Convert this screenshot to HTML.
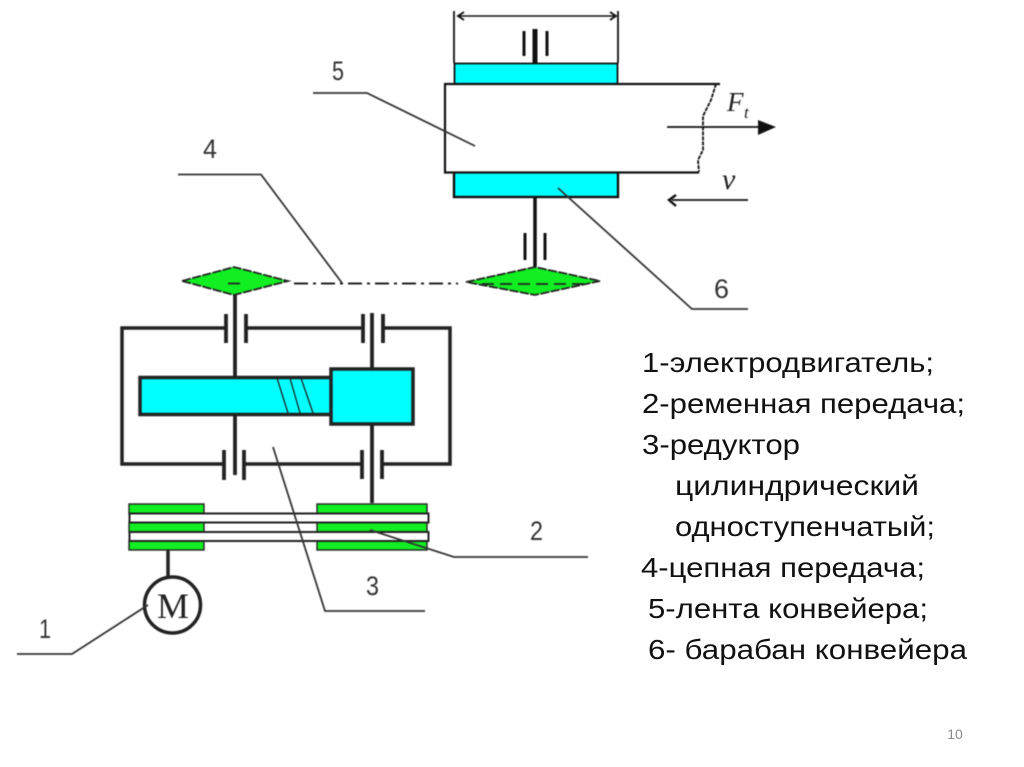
<!DOCTYPE html>
<html><head><meta charset="utf-8"><style>
html,body{margin:0;padding:0;background:#fff;width:1024px;height:767px;overflow:hidden}
svg{display:block}
.t{font-family:"Liberation Sans","DejaVu Sans",sans-serif;font-size:28px;fill:#111}
.n{font-family:"Liberation Sans",sans-serif;font-size:27px;fill:#333}
.b{filter:blur(.4px)}
</style></head><body>
<svg width="1024" height="767" viewBox="0 0 1024 767" xmlns="http://www.w3.org/2000/svg">
<rect width="1024" height="767" fill="#fff"/>
<g class="b">
<!-- drum & belt -->
<g stroke="#111" fill="none">
<path d="M454 11V63M618 11V63" stroke-width="1.8"/>
<path d="M457 16H615" stroke-width="1.6"/>
<path d="M464 12L458 16L464 20M610 12L616 16L610 20" stroke-width="1.8"/>
<path d="M524 31V56M547 31V56" stroke-width="3"/>
<path d="M535 29V63" stroke-width="5"/>
<rect x="454.500" y="63.500" width="163" height="21" fill="#00ffff" stroke-width="1.8"/>
<rect x="454" y="172" width="164" height="25" fill="#00ffff" stroke-width="2.4"/>
<path d="M720 84H445V172.500H699" stroke-width="2.2" fill="#fff"/>
<path d="M716 84L711 100L703 116V150L698 160L699 172" stroke-width="1.8" stroke-dasharray="4 1"/>
<path d="M667 127H760" stroke-width="1.8"/>
<path d="M535 197V267" stroke-width="3.500"/>
<path d="M525 233V260M545 233V260" stroke-width="3"/>
<path d="M672 200H748" stroke-width="1.8"/>
<path d="M676 195L669 200L676 206" stroke-width="2.4"/>
</g>
<path d="M758 120L776 127L758 135Z" fill="#111"/>
<!-- sprockets -->
<g fill="#11ee22" stroke="#222" stroke-width="1.800" stroke-dasharray="9 1.500">
<path d="M182 281L234 267L288 281L234 295Z"/>
<path d="M466 282L535 267L600 281L535 295Z"/>
</g>
<path d="M228 283.500H244M482 284H590" stroke="#222" stroke-width="1.800" stroke-dasharray="12 6"/>
<path d="M294 283.500H458" stroke="#222" stroke-width="2" stroke-dasharray="14 5 3 5"/>
<!-- reducer -->
<g stroke="#222" fill="none" stroke-width="3.500">
<path d="M226 328H122V464H224M246 328H363M383 328H450V464H382M244 464H362"/>
<path d="M226 314V343M246 314V343M363 314V343M383 314V343M224 450V480M244 450V480M362 450V479M382 450V479" stroke-width="3.800"/>
<path d="M235 294V377M372 313V369M235 414V475M372 424V503" stroke-width="3.800"/>
<rect x="140" y="377.500" width="192" height="37" fill="#00ffff"/>
<rect x="331" y="369" width="82" height="55" fill="#00ffff"/>
<path d="M277 378L288 413M290 378L300 413M301 378L313 413" stroke-width="1.300"/>
</g>
<!-- pulleys and belts -->
<g fill="#11ee22" stroke="#222" stroke-width="1.400">
<rect x="129" y="504" width="75" height="10"/><rect x="129" y="522" width="75" height="10"/><rect x="129" y="541" width="75" height="9"/>
<rect x="317" y="504" width="110" height="10"/><rect x="317" y="522" width="110" height="10"/><rect x="317" y="541" width="110" height="9"/>
</g>
<g fill="#fff" stroke="#222" stroke-width="2">
<rect x="129.500" y="513.500" width="299" height="9"/>
<rect x="129.500" y="532" width="299" height="9"/>
</g>
<path d="M168 550V578" stroke="#222" stroke-width="3.500"/>
<circle cx="172.500" cy="605" r="28" fill="#fff" stroke="#222" stroke-width="3.500"/>
<text x="173" y="618" text-anchor="middle" font-family="Liberation Serif,serif" font-size="36" fill="#222" textLength="32" lengthAdjust="spacingAndGlyphs">M</text>
<!-- leaders -->
<g stroke="#333" fill="none" stroke-width="1.800">
<path d="M17 654H72L148 605"/>
<path d="M370 530L454 557H588"/>
<path d="M273 447L325 611H425"/>
<path d="M178 174.500H261L342 283"/>
<path d="M313 93H367L475 146"/>
<path d="M558 188L692 309H748"/>
</g>
<text class="n" x="39" y="638" textLength="12" lengthAdjust="spacingAndGlyphs">1</text>
<text class="n" x="530" y="540" textLength="13" lengthAdjust="spacingAndGlyphs">2</text>
<text class="n" x="366" y="595" textLength="13" lengthAdjust="spacingAndGlyphs">3</text>
<text class="n" x="203" y="158" textLength="14" lengthAdjust="spacingAndGlyphs">4</text>
<text class="n" x="332" y="80" textLength="12" lengthAdjust="spacingAndGlyphs">5</text>
<text class="n" x="714" y="298" textLength="15" lengthAdjust="spacingAndGlyphs">6</text>
<text x="727" y="111" font-family="Liberation Serif,serif" font-style="italic" font-size="27" fill="#222">F</text>
<text x="744" y="118" font-family="Liberation Serif,serif" font-style="italic" font-size="17" fill="#222">t</text>
<text x="722" y="189" font-family="Liberation Serif,serif" font-style="italic" font-size="30" fill="#222">v</text>
</g>
<!-- legend -->
<text class="t" x="642" y="372" textLength="292" lengthAdjust="spacingAndGlyphs">1-электродвигатель;</text>
<text class="t" x="642" y="413" textLength="323" lengthAdjust="spacingAndGlyphs">2-ременная передача;</text>
<text class="t" x="642" y="454" textLength="158" lengthAdjust="spacingAndGlyphs">3-редуктор</text>
<text class="t" x="675" y="495" textLength="244" lengthAdjust="spacingAndGlyphs">цилиндрический</text>
<text class="t" x="675" y="536" textLength="260" lengthAdjust="spacingAndGlyphs">одноступенчатый;</text>
<text class="t" x="641" y="577" textLength="284" lengthAdjust="spacingAndGlyphs">4-цепная передача;</text>
<text class="t" x="648" y="618" textLength="280" lengthAdjust="spacingAndGlyphs">5-лента конвейера;</text>
<text class="t" x="648" y="659" textLength="319" lengthAdjust="spacingAndGlyphs">6- барабан конвейера</text>
<text x="955" y="739" text-anchor="middle" font-family="Liberation Sans,sans-serif" font-size="14" fill="#8a8a8a">10</text>
</svg>
</body></html>
